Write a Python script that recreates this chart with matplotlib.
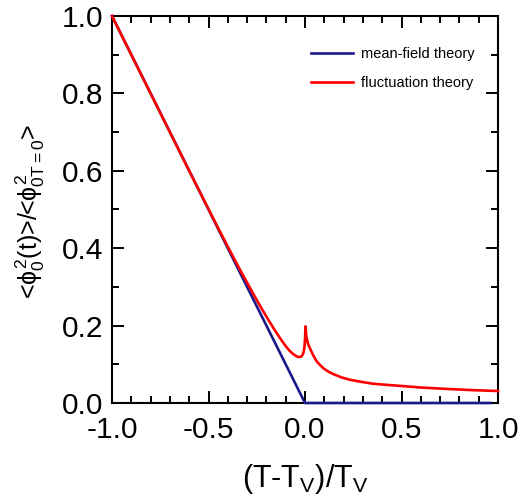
import matplotlib
matplotlib.use("Agg")
import matplotlib.pyplot as plt
from matplotlib.ticker import MultipleLocator, FormatStrFormatter

plt.rcParams['font.family'] = ['Liberation Sans', 'DejaVu Sans']
plt.rcParams['mathtext.fontset'] = 'custom'
plt.rcParams['mathtext.rm'] = 'Liberation Sans'
plt.rcParams['mathtext.it'] = 'Liberation Sans'
plt.rcParams['mathtext.bf'] = 'Liberation Sans:bold'

# mean-field theory
mf_x = [-1.0, 0.0, 0.96]
mf_y = [1.0, 0.0, 0.0]

# fluctuation theory
fl_x = [-1.0, -0.8, -0.6, -0.5, -0.45, -0.4, -0.36, -0.32, -0.28, -0.25, -0.22, -0.19,
        -0.16, -0.13, -0.1, -0.078, -0.06, -0.045, -0.035, -0.025, -0.017, -0.011,
        -0.007, -0.004, -0.002, 0.0, 0.0015, 0.003, 0.0045, 0.006, 0.009, 0.013, 0.018,
        0.026, 0.035, 0.043, 0.06, 0.08, 0.1, 0.125, 0.15, 0.19, 0.233, 0.3,
        0.35, 0.42, 0.5, 0.6, 0.75, 0.88, 1.0]
fl_y = [1.0, 0.8, 0.6, 0.501, 0.452, 0.404, 0.366, 0.329, 0.293, 0.266, 0.240, 0.215,
        0.191, 0.168, 0.147, 0.134, 0.126, 0.121, 0.119, 0.119, 0.121, 0.126,
        0.132, 0.140, 0.150, 0.165, 0.182, 0.198, 0.186, 0.177, 0.167, 0.158, 0.150,
        0.141, 0.131, 0.123, 0.108, 0.097, 0.088, 0.080, 0.074, 0.066, 0.060, 0.054,
        0.050, 0.047, 0.044, 0.040, 0.036, 0.033, 0.031]

fig = plt.figure(figsize=(5.21, 4.96), dpi=100)
ax = fig.add_axes([112/521, 1-403/496, (498-112)/521, (403-16)/496])

ax.plot(mf_x, mf_y, color='#1a1a8a', lw=1.9, label='mean-field theory', zorder=3, clip_on=False)
ax.plot(fl_x, fl_y, color='#ff0000', lw=1.9, label='fluctuation theory', zorder=4, clip_on=False)

ax.set_xlim(-1.0, 1.0)
ax.set_ylim(0.0, 1.0)
ax.xaxis.set_major_locator(MultipleLocator(0.5))
ax.xaxis.set_minor_locator(MultipleLocator(0.1))
ax.yaxis.set_major_locator(MultipleLocator(0.2))
ax.yaxis.set_minor_locator(MultipleLocator(0.1))
ax.xaxis.set_major_formatter(FormatStrFormatter('%.1f'))
ax.yaxis.set_major_formatter(FormatStrFormatter('%.1f'))

ax.tick_params(which='both', direction='in', top=True, right=True, width=1.4, colors='black')
ax.tick_params(which='major', length=8.5, labelsize=21.5)
ax.tick_params(axis='x', which='major', pad=9.5)
ax.tick_params(axis='y', which='major', pad=6)
ax.tick_params(which='minor', length=5)
for s in ax.spines.values():
    s.set_linewidth(1.5)

ax.set_xlabel(r'(T-T$_\mathrm{V}$)/T$_\mathrm{V}$', fontsize=22, labelpad=13)
ax.set_ylabel(r'<$\phi_0^2$(t)>/<$\phi^2_{0T=0}$>', fontsize=18)
ax.yaxis.set_label_coords((47 - 112) / 386, 0.495)

ax.legend(loc='upper right', bbox_to_anchor=(1.0, 1.0 - 8/387), frameon=False,
          fontsize=10.5, handlelength=2.9, handletextpad=0.55, labelspacing=1.0,
          borderaxespad=1.2)

fig.savefig('out.png', dpi=100)
